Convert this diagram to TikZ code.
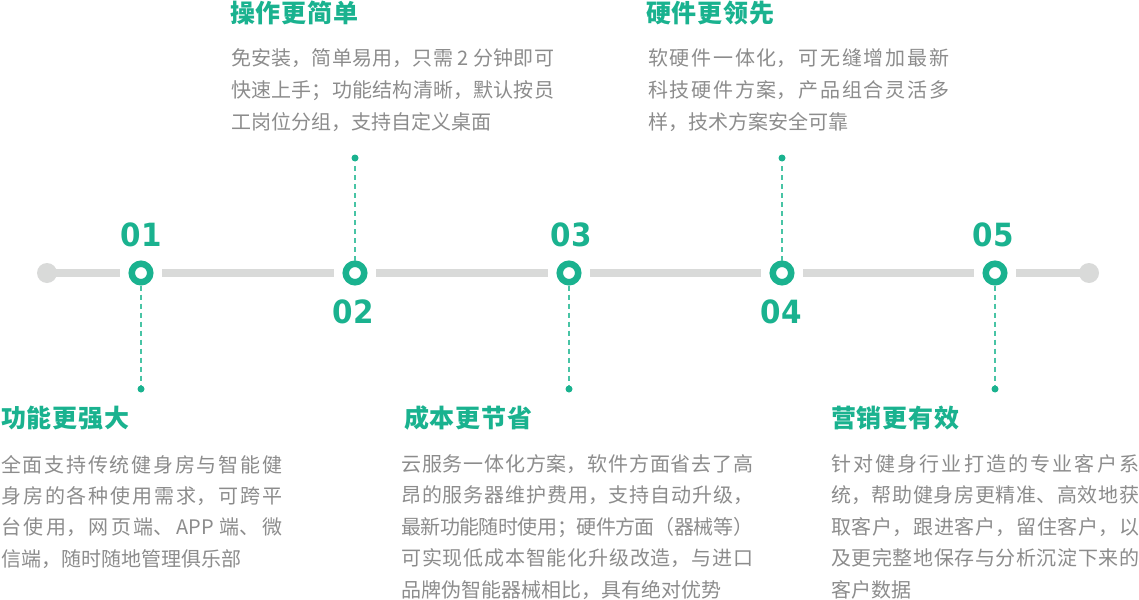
\documentclass[tikz,border=0pt]{standalone}
\usepackage{fontspec}
\newfontfamily\cjk{Noto Sans CJK SC}
\newfontfamily\cjktitle{Noto Sans CJK SC}[LetterSpace=3]
\newfontfamily\numfont{DejaVu Sans}[FakeStretch=0.92]
\XeTeXlinebreaklocale "zh"
\XeTeXlinebreakskip=0pt plus 4pt minus 1pt
\definecolor{tgreen}{RGB}{26,178,143}
\definecolor{dgreen}{RGB}{72,196,165}
\definecolor{trackc}{RGB}{217,218,217}
\definecolor{bodyc}{RGB}{140,140,140}
\tikzset{
 tlstrack/.style={draw=trackc, line width=8pt, shorten <=8.5pt, shorten >=8.5pt},
 tlsring/.style={circle, draw=tgreen, line width=6.5pt, fill=white, minimum size=18.5pt, inner sep=0pt},
 tlsend/.style={circle, fill=trackc, minimum size=20pt, inner sep=0pt},
 tlsdot/.style={circle, fill=tgreen, minimum size=7pt, inner sep=0pt},
 tlsdash/.style={draw=dgreen, line width=2pt, dash pattern=on 5pt off 4pt},
 tlsnum/.style={font=\numfont\bfseries\fontsize{32}{32}\selectfont, text=tgreen, inner sep=0pt},
 tlstitle/.style={font=\cjktitle\bfseries\fontsize{25}{25}\selectfont, text=tgreen, inner sep=0pt, anchor=base west},
 tlsbody/.style={font=\cjk\fontsize{20}{31.4}\selectfont, text=bodyc, inner sep=0pt, anchor=base west, align=justify},
 tlsbodytop/.style={tlsbody, font=\cjk\fontsize{20}{32}\selectfont},
}
\begin{document}
\begin{tikzpicture}[x=1pt,y=-1pt]
\useasboundingbox (0,0) rectangle (1139,599);
% timeline
\node[tlsend] (e0) at (47,273) {};
\node[tlsend] (e6) at (1089,273) {};
\node[tlsring] (c1) at (141,273) {};
\node[tlsring] (c2) at (355,273) {};
\node[tlsring] (c3) at (569,273) {};
\node[tlsring] (c4) at (782,273) {};
\node[tlsring] (c5) at (995,273) {};
\draw[tlstrack, shorten <=0pt] (e0.center) -- (c1);
\draw[tlstrack] (c1) -- (c2);
\draw[tlstrack] (c2) -- (c3);
\draw[tlstrack] (c3) -- (c4);
\draw[tlstrack] (c4) -- (c5);
\draw[tlstrack, shorten >=0pt] (c5) -- (e6.center);
% dots and dashed links
\node[tlsdot] (d1) at (141,389) {};
\node[tlsdot] (d2) at (355,158) {};
\node[tlsdot] (d3) at (569,389) {};
\node[tlsdot] (d4) at (782,158) {};
\node[tlsdot] (d5) at (995,389) {};
\draw[tlsdash] (c1) -- (d1);
\draw[tlsdash] (c2) -- (d2);
\draw[tlsdash] (c3) -- (d3);
\draw[tlsdash] (c4) -- (d4);
\draw[tlsdash] (c5) -- (d5);
% numbers
\node[tlsnum] (n1) at (141,235) {01};
\node[tlsnum] (n2) at (353,312) {02};
\node[tlsnum] (n3) at (571,235) {03};
\node[tlsnum] (n4) at (781,312) {04};
\node[tlsnum] (n5) at (993,235) {05};
% block 01
\node[tlstitle] (t1) at (1,427) {功能更强大};
\node[tlsbody, text width=281pt] (b1) at (1,472) {全面支持传统健身房与智能健\linebreak 身房的各种使用需求，可跨平\linebreak 台使用，网页端、APP 端、微\linebreak 信端，随时随地管理俱乐部};
% block 02
\node[tlstitle] (t2) at (230,22.5) {操作更简单};
\node[tlsbodytop, text width=323pt] (b2) at (231,65.6) {免安装，简单易用，只需 2 分钟即可\linebreak 快速上手；功能结构清晰，默认按员\linebreak 工岗位分组，支持自定义桌面};
% block 03
\node[tlstitle] (t3) at (404,427) {成本更节省};
\node[tlsbody, text width=352pt] (b3) at (401,471.5) {云服务一体化方案，软件方面省去了高\linebreak 昂的服务器维护费用，支持自动升级，\linebreak 最新功能随时使用；硬件方面（器械等）\linebreak 可实现低成本智能化升级改造，与进口\linebreak 品牌伪智能器械相比，具有绝对优势};
% block 04
\node[tlstitle] (t4) at (646,22.5) {硬件更领先};
\node[tlsbodytop, text width=301pt] (b4) at (648,65.6) {软硬件一体化，可无缝增加最新\linebreak 科技硬件方案，产品组合灵活多\linebreak 样，技术方案安全可靠};
% block 05
\node[tlstitle] (t5) at (831,427) {营销更有效};
\node[tlsbody, text width=308pt] (b5) at (831,471.5) {针对健身行业打造的专业客户系\linebreak 统，帮助健身房更精准、高效地获\linebreak 取客户，跟进客户，留住客户，以\linebreak 及更完整地保存与分析沉淀下来的\linebreak 客户数据};
\end{tikzpicture}
\end{document}
